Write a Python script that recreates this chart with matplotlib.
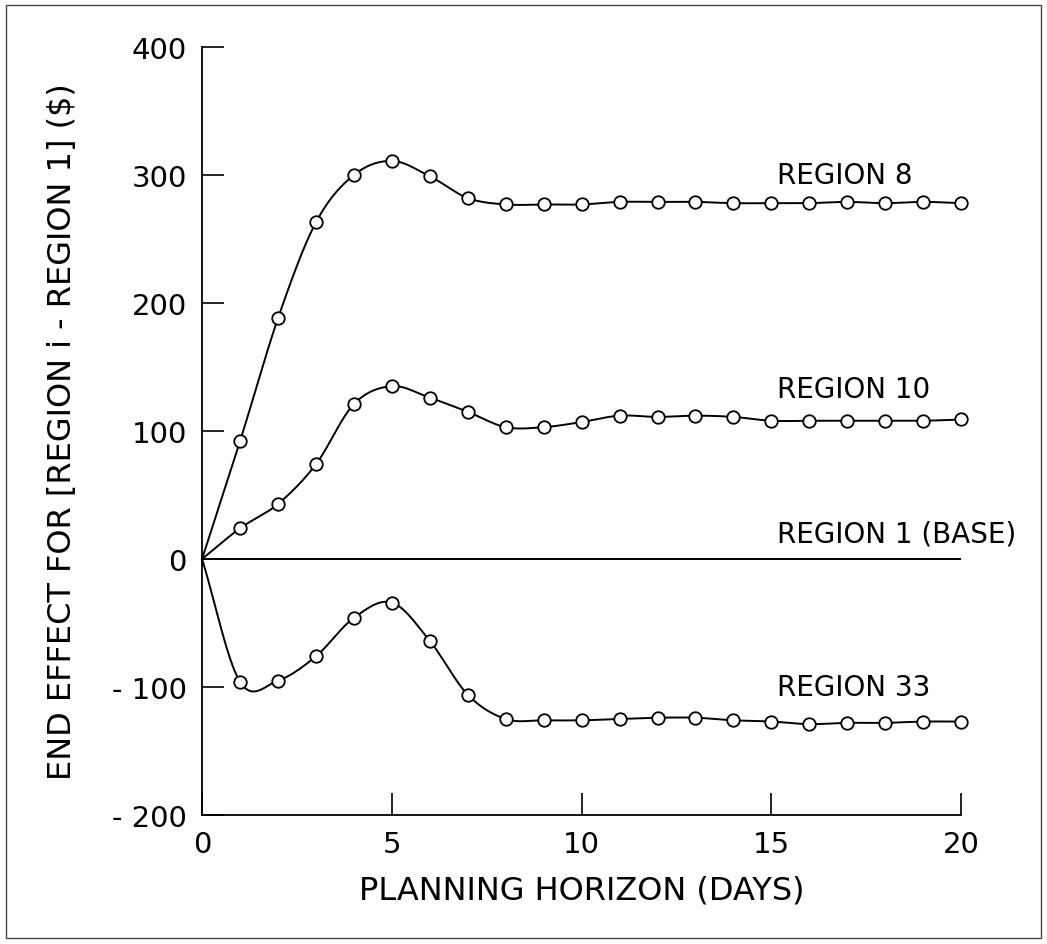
import numpy as np
import matplotlib.pyplot as plt
from matplotlib.patches import Rectangle

plt.rcParams['font.family'] = ['DejaVu Sans']
plt.rcParams['axes.unicode_minus'] = False

days = list(range(0, 21))
region8 = [0, 92, 188, 263, 300, 311, 299, 282, 277, 277, 277, 279, 279, 279, 278, 278, 278, 279, 278, 279, 278]
region10 = [0, 24, 43, 74, 121, 135, 126, 115, 103, 103, 107, 112, 111, 112, 111, 108, 108, 108, 108, 108, 109]
region33 = [0, -96, -95, -76, -46, -34, -64, -106, -125, -126, -126, -125, -124, -124, -126, -127, -129, -128, -128, -127, -127]
base = [0] * 21

labels = ["REGION 8", "REGION 10", "REGION 1 (BASE)", "REGION 33"]
label_y = [300, 133, 20, -100]


def smooth(x, y, n=12):
    # cubic hermite through the points, just for drawing the curve
    x = np.asarray(x, float)
    y = np.asarray(y, float)
    m = np.gradient(y, x)
    xs, ys = [], []
    for i in range(len(x) - 1):
        t = np.linspace(0, 1, n, endpoint=False)
        h = x[i + 1] - x[i]
        h00 = 2 * t**3 - 3 * t**2 + 1
        h10 = t**3 - 2 * t**2 + t
        h01 = -2 * t**3 + 3 * t**2
        h11 = t**3 - t**2
        xs.append(x[i] + t * h)
        ys.append(h00 * y[i] + h10 * h * m[i] + h01 * y[i + 1] + h11 * h * m[i + 1])
    xs.append([x[-1]])
    ys.append([y[-1]])
    return np.concatenate(xs), np.concatenate(ys)


fig = plt.figure(figsize=(10.47, 9.45), dpi=100)
ax = fig.add_axes([0.193, 0.1365, 0.725, 0.8127])

for series in [region8, region10, region33]:
    sx, sy = smooth(days, series)
    ax.plot(sx, sy, color='black', lw=1.4, clip_on=False)
    ax.plot(days[1:], series[1:], 'o', ms=9, mfc='white', mec='black', mew=1.3,
            clip_on=False, zorder=3)
ax.plot(days, base, color='black', lw=1.4)

for txt, yy in zip(labels, label_y):
    ax.text(15.15, yy, txt, fontsize=20, ha='left', va='center')

ax.set_xlim(0, 20)
ax.set_ylim(-200, 400)
ax.set_xticks([0, 5, 10, 15, 20])
ax.set_yticks([-200, -100, 0, 100, 200, 300, 400])
ax.set_yticklabels(["- 200", "- 100", "0", "100", "200", "300", "400"])
ax.spines['top'].set_visible(False)
ax.spines['right'].set_visible(False)
ax.spines['left'].set_linewidth(1.3)
ax.spines['bottom'].set_linewidth(1.3)
ax.tick_params(direction='in', length=16, width=1.2, labelsize=21, pad=11)

ax.set_xlabel("PLANNING HORIZON (DAYS)", fontsize=23, labelpad=12)
ax.set_ylabel("END EFFECT FOR [REGION i - REGION 1] ($)", fontsize=23)
ax.yaxis.set_label_coords(-0.163, 0.5)

fig.patches.append(Rectangle((0.006, 0.006), 0.988, 0.988, transform=fig.transFigure,
                             fill=False, ec='#444444', lw=1.0))

fig.savefig("out.png", dpi=100)
